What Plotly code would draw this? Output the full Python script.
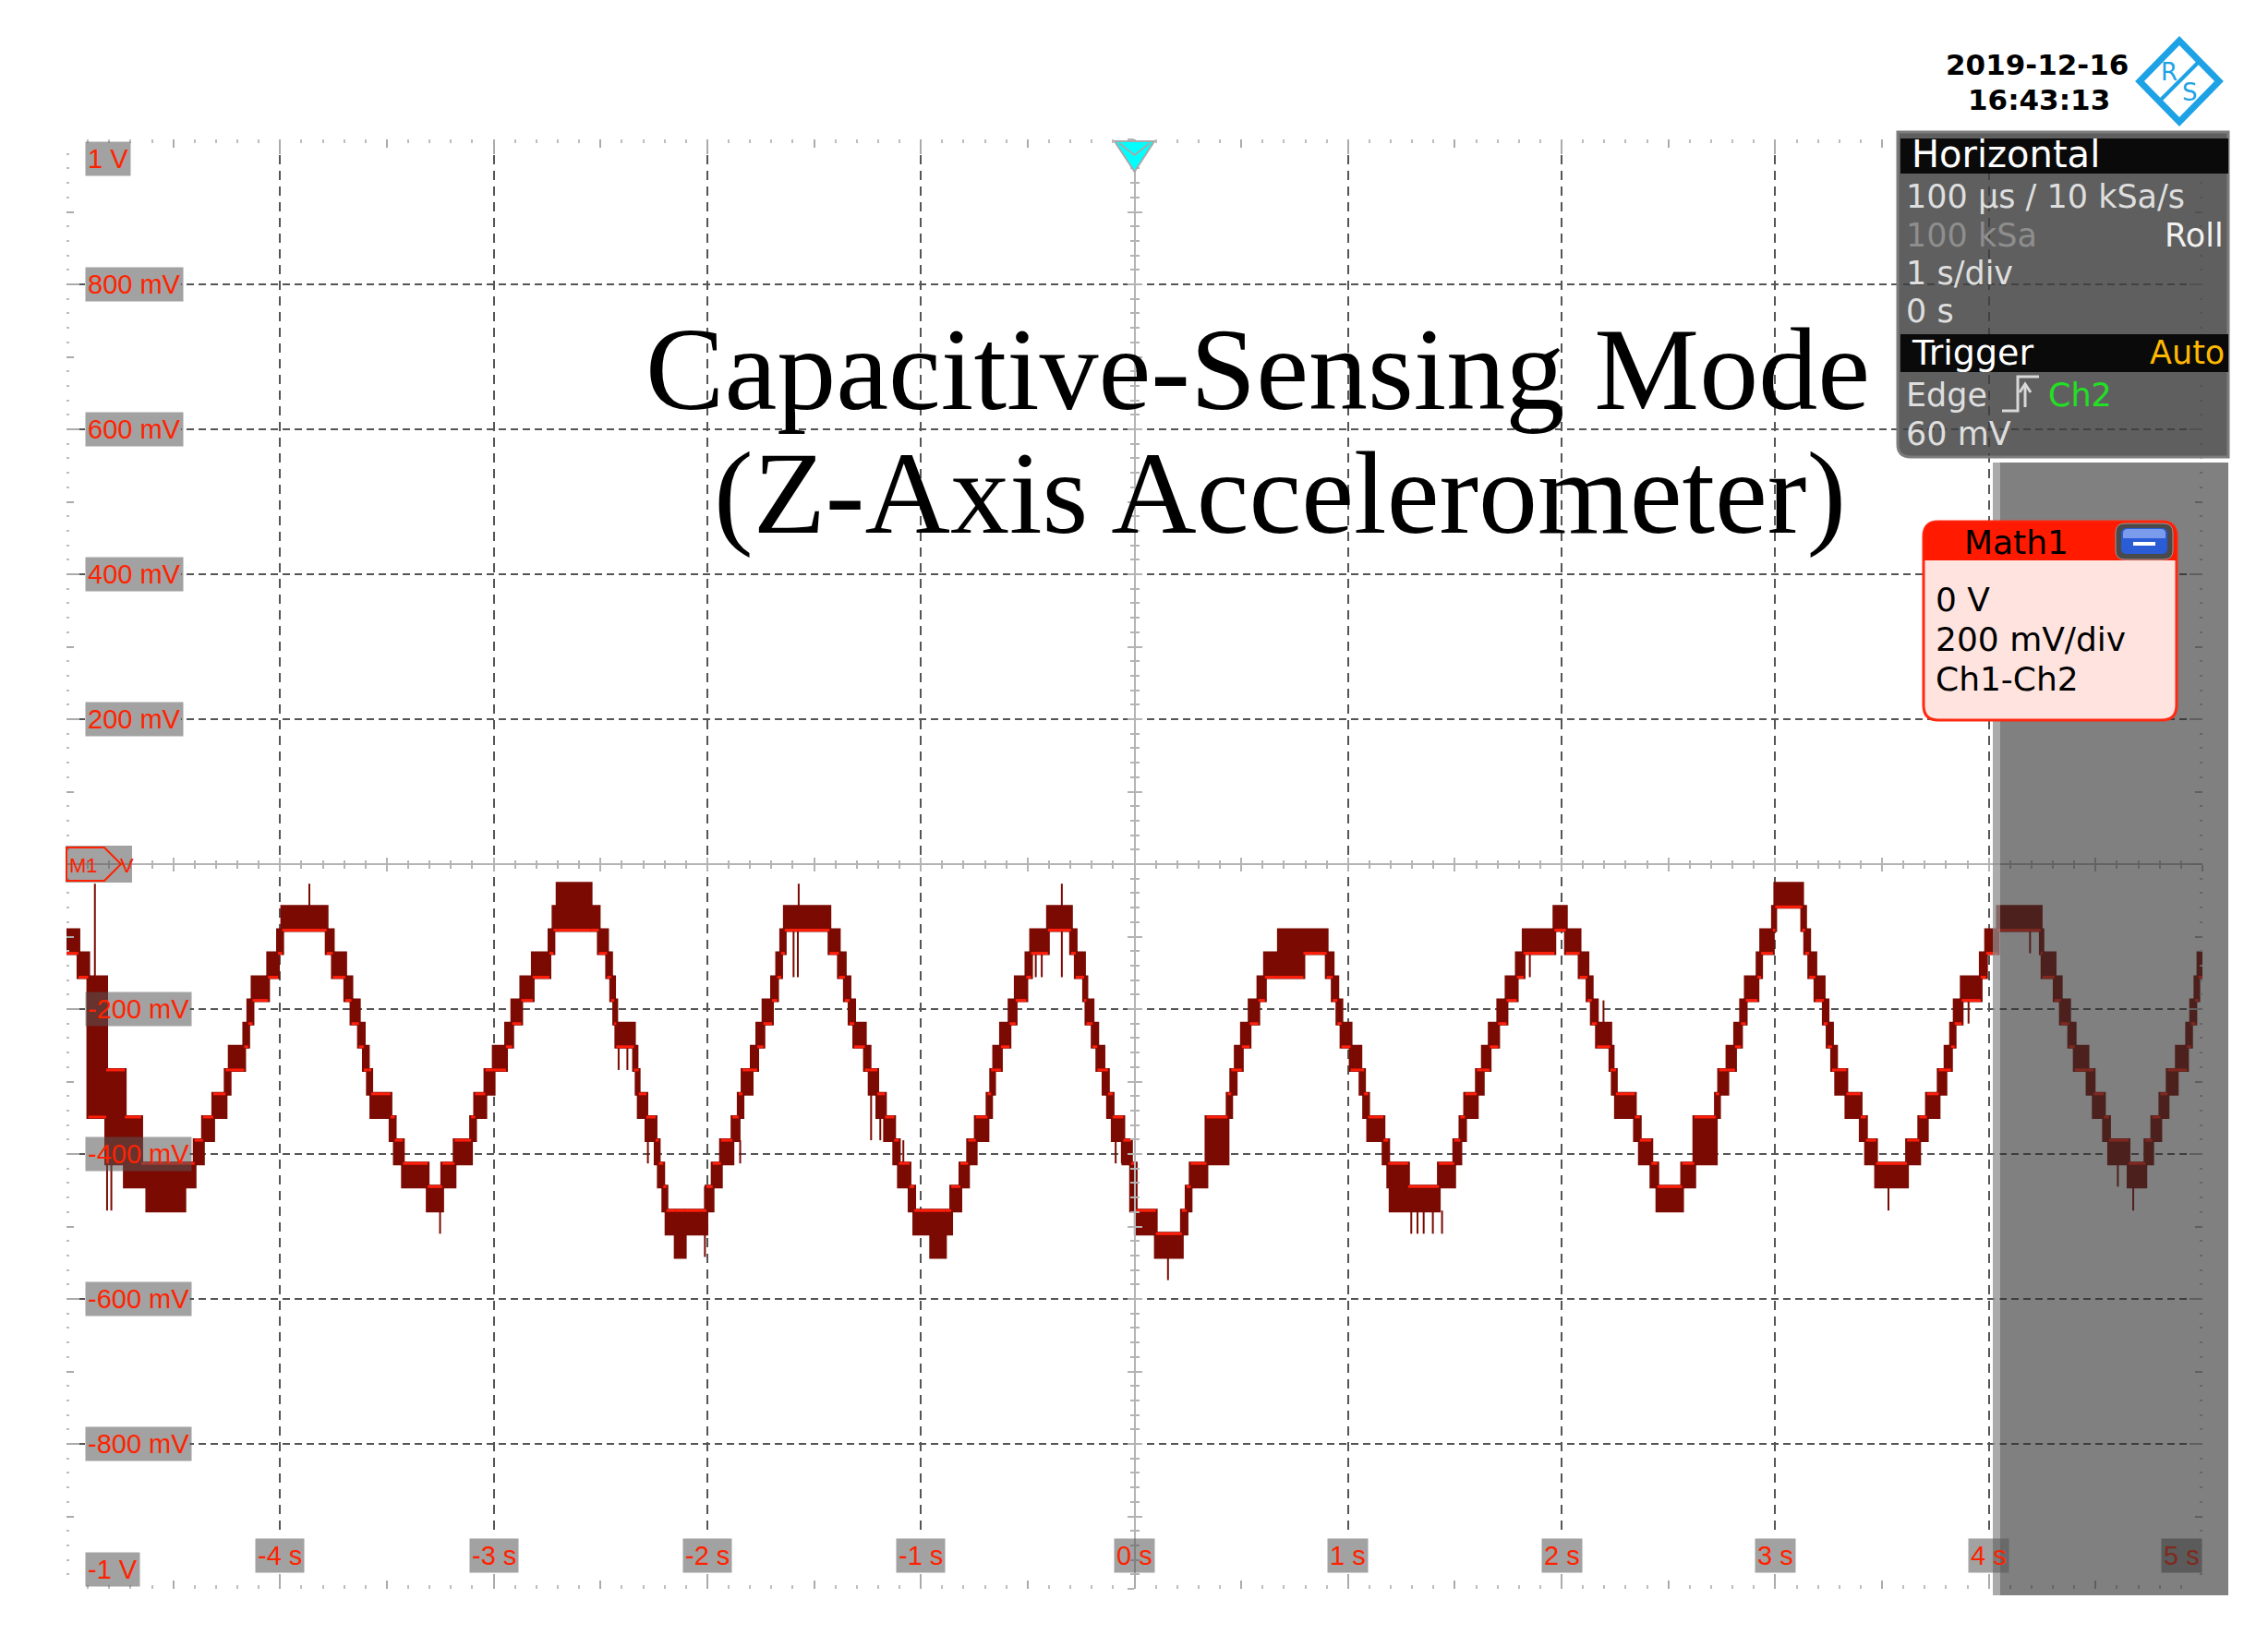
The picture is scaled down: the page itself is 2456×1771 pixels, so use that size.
import plotly.graph_objects as go

# ---------------- data ----------------
# Math1 (Ch1-Ch2) waveform, drawn as quantisation bands:
# band start time [s], upper level [V], lower level [V]; each band lasts until the next start
band_t = [-5.000, -4.944, -4.898, -4.814, -4.727, -4.650, -4.622, -4.448, -4.400, -4.361,
          -4.313, -4.255, -4.236, -4.168, -4.149, -4.129, -4.056, -4.010, -3.990, -3.782,
          -3.753, -3.695, -3.666, -3.631, -3.608, -3.589, -3.573, -3.483, -3.463, -3.425,
          -3.309, -3.241, -3.183, -3.106, -3.087, -3.039, -3.000, -2.942, -2.913, -2.871,
          -2.817, -2.739, -2.720, -2.701, -2.546, -2.508, -2.469, -2.450, -2.436, -2.426,
          -2.343, -2.331, -2.321, -2.285, -2.242, -2.227, -2.206, -2.191, -2.148, -2.105,
          -2.004, -1.975, -1.936, -1.882, -1.853, -1.835, -1.792, -1.766, -1.737, -1.697,
          -1.673, -1.654, -1.637, -1.428, -1.384, -1.356, -1.334, -1.312, -1.262, -1.240,
          -1.204, -1.168, -1.125, -1.103, -1.053, -1.031, -0.952, -0.887, -0.858, -0.815,
          -0.779, -0.743, -0.688, -0.671, -0.657, -0.625, -0.585, -0.556, -0.506, -0.484,
          -0.405, -0.297, -0.275, -0.236, -0.225, -0.196, -0.174, -0.145, -0.124, -0.102,
          -0.052, -0.016, 0.006, 0.100, 0.222, 0.244, 0.263, 0.337, 0.436, 0.453,
          0.474, 0.503, 0.539, 0.580, 0.611, 0.676, 0.791, 0.900, 0.928, 0.950,
          0.969, 1.012, 1.058, 1.075, 1.094, 1.166, 1.188, 1.199, 1.281, 1.425,
          1.497, 1.526, 1.548, 1.603, 1.631, 1.663, 1.703, 1.742, 1.790, 1.822,
          1.966, 2.020, 2.084, 2.121, 2.141, 2.165, 2.228, 2.239, 2.254, 2.343,
          2.366, 2.420, 2.448, 2.564, 2.621, 2.722, 2.737, 2.776, 2.812, 2.840,
          2.862, 2.917, 2.934, 2.989, 3.000, 3.126, 3.140, 3.159, 3.188, 3.227,
          3.245, 3.266, 3.285, 3.333, 3.400, 3.425, 3.472, 3.617, 3.674, 3.710,
          3.765, 3.797, 3.823, 3.840, 3.873, 3.962, 3.987, 4.042, 4.243, 4.251,
          4.308, 4.337, 4.376, 4.402, 4.462, 4.491, 4.539, 4.563, 4.654, 4.733,
          4.765, 4.803, 4.837, 4.880, 4.928, 4.947, 4.967, 4.981]
band_hi = [-0.091, -0.123, -0.156, -0.284, -0.349, -0.413, -0.413, -0.413, -0.381, -0.349,
           -0.317, -0.284, -0.252, -0.220, -0.188, -0.156, -0.123, -0.091, -0.059, -0.091,
           -0.123, -0.156, -0.188, -0.220, -0.252, -0.284, -0.317, -0.349, -0.381, -0.413,
           -0.445, -0.413, -0.381, -0.349, -0.317, -0.284, -0.252, -0.220, -0.188, -0.156,
           -0.123, -0.091, -0.059, -0.027, -0.059, -0.091, -0.123, -0.156, -0.188, -0.220,
           -0.252, -0.284, -0.317, -0.349, -0.381, -0.413, -0.445, -0.478, -0.478, -0.478,
           -0.445, -0.413, -0.381, -0.349, -0.317, -0.284, -0.252, -0.220, -0.188, -0.156,
           -0.123, -0.091, -0.059, -0.091, -0.123, -0.156, -0.188, -0.220, -0.252, -0.284,
           -0.317, -0.349, -0.381, -0.413, -0.445, -0.478, -0.478, -0.478, -0.445, -0.413,
           -0.381, -0.349, -0.317, -0.284, -0.252, -0.220, -0.188, -0.156, -0.123, -0.091,
           -0.059, -0.091, -0.123, -0.156, -0.188, -0.220, -0.252, -0.284, -0.317, -0.349,
           -0.381, -0.413, -0.478, -0.510, -0.478, -0.445, -0.413, -0.349, -0.317, -0.284,
           -0.252, -0.220, -0.188, -0.156, -0.123, -0.091, -0.091, -0.123, -0.156, -0.188,
           -0.220, -0.252, -0.284, -0.317, -0.349, -0.381, -0.413, -0.413, -0.445, -0.413,
           -0.381, -0.349, -0.317, -0.284, -0.252, -0.220, -0.188, -0.156, -0.123, -0.091,
           -0.059, -0.091, -0.123, -0.156, -0.188, -0.220, -0.252, -0.284, -0.317, -0.349,
           -0.381, -0.413, -0.445, -0.413, -0.349, -0.317, -0.284, -0.252, -0.220, -0.188,
           -0.156, -0.123, -0.091, -0.059, -0.027, -0.059, -0.091, -0.123, -0.156, -0.188,
           -0.220, -0.252, -0.284, -0.317, -0.349, -0.381, -0.413, -0.381, -0.349, -0.317,
           -0.284, -0.252, -0.220, -0.188, -0.156, -0.123, -0.091, -0.059, -0.091, -0.123,
           -0.156, -0.188, -0.220, -0.252, -0.284, -0.317, -0.349, -0.381, -0.413, -0.381,
           -0.349, -0.317, -0.284, -0.252, -0.220, -0.188, -0.156, -0.123]
band_lo = [-0.123, -0.156, -0.349, -0.413, -0.445, -0.445, -0.478, -0.445, -0.413, -0.381,
           -0.349, -0.317, -0.284, -0.252, -0.220, -0.188, -0.156, -0.123, -0.091, -0.123,
           -0.156, -0.188, -0.220, -0.252, -0.284, -0.317, -0.349, -0.381, -0.413, -0.445,
           -0.478, -0.445, -0.413, -0.381, -0.349, -0.317, -0.284, -0.252, -0.220, -0.188,
           -0.156, -0.123, -0.091, -0.091, -0.091, -0.123, -0.156, -0.188, -0.220, -0.252,
           -0.284, -0.317, -0.349, -0.381, -0.413, -0.445, -0.478, -0.510, -0.542, -0.510,
           -0.478, -0.445, -0.413, -0.381, -0.349, -0.317, -0.284, -0.252, -0.220, -0.188,
           -0.156, -0.123, -0.091, -0.123, -0.156, -0.188, -0.220, -0.252, -0.284, -0.317,
           -0.349, -0.381, -0.413, -0.445, -0.478, -0.510, -0.542, -0.510, -0.478, -0.445,
           -0.413, -0.381, -0.349, -0.317, -0.284, -0.252, -0.220, -0.188, -0.156, -0.123,
           -0.091, -0.123, -0.156, -0.188, -0.220, -0.252, -0.284, -0.317, -0.349, -0.381,
           -0.413, -0.478, -0.510, -0.542, -0.510, -0.478, -0.445, -0.413, -0.349, -0.317,
           -0.284, -0.252, -0.220, -0.188, -0.156, -0.156, -0.123, -0.156, -0.188, -0.220,
           -0.252, -0.284, -0.317, -0.349, -0.381, -0.413, -0.445, -0.478, -0.478, -0.445,
           -0.413, -0.381, -0.349, -0.317, -0.284, -0.252, -0.220, -0.188, -0.156, -0.123,
           -0.091, -0.123, -0.156, -0.188, -0.220, -0.252, -0.284, -0.317, -0.349, -0.381,
           -0.413, -0.445, -0.478, -0.445, -0.413, -0.349, -0.317, -0.284, -0.252, -0.220,
           -0.188, -0.156, -0.123, -0.091, -0.059, -0.091, -0.123, -0.156, -0.188, -0.220,
           -0.252, -0.284, -0.317, -0.349, -0.381, -0.413, -0.445, -0.413, -0.381, -0.349,
           -0.317, -0.284, -0.252, -0.220, -0.188, -0.156, -0.123, -0.091, -0.123, -0.156,
           -0.188, -0.220, -0.252, -0.284, -0.317, -0.349, -0.381, -0.413, -0.445, -0.413,
           -0.381, -0.349, -0.317, -0.284, -0.252, -0.220, -0.188, -0.156]
band_end_t = 5.0

# short glitches (vertical lines): time [s], top [V], bottom [V]
spike_t = [-4.867, -4.810, -4.790, -3.863, -3.251, -2.415, -2.374, -2.278, -2.011, -1.846,
           -1.596, -1.576, -1.572, -1.233, -1.190, -1.082, -0.462, -0.434, -0.340, -0.088,
           -0.059, 0.157, 0.294, 0.640, 1.015, 1.044, 1.296, 1.325, 1.354, 1.397,
           1.440, 1.851, 1.951, 2.196, 3.530, 3.696, 3.905, 4.193, 4.315, 4.553,
           4.604, 4.676, 4.712, 4.813]
spike_hi = [-0.027, -0.156, -0.350, -0.027, -0.478, -0.252, -0.252, -0.349, -0.445, -0.381,
            -0.091, -0.091, -0.027, -0.317, -0.317, -0.381, -0.123, -0.123, -0.027, -0.381,
            -0.381, -0.542, -0.413, -0.123, -0.252, -0.252, -0.478, -0.478, -0.478, -0.478,
            -0.478, -0.123, -0.091, -0.188, -0.445, -0.349, -0.188, -0.091, -0.156, -0.349,
            -0.413, -0.445, -0.413, -0.317]
spike_lo = [-0.349, -0.478, -0.478, -0.059, -0.510, -0.284, -0.284, -0.413, -0.542, -0.413,
            -0.156, -0.156, -0.059, -0.381, -0.381, -0.445, -0.156, -0.156, -0.156, -0.413,
            -0.413, -0.574, -0.445, -0.156, -0.284, -0.284, -0.510, -0.510, -0.510, -0.510,
            -0.510, -0.156, -0.123, -0.220, -0.478, -0.381, -0.220, -0.123, -0.188, -0.381,
            -0.445, -0.478, -0.445, -0.349]

x_tick_vals = [-4, -3, -2, -1, 0, 1, 2, 3, 4, 5]
x_tick_text = ["-4 s", "-3 s", "-2 s", "-1 s", "0 s", "1 s", "2 s", "3 s", "4 s", "5 s"]
y_tick_vals = [1.0, 0.8, 0.6, 0.4, 0.2, -0.2, -0.4, -0.6, -0.8, -1.0]
y_tick_text = ["1 V", "800 mV", "600 mV", "400 mV", "200 mV", "-200 mV", "-400 mV",
               "-600 mV", "-800 mV", "-1 V"]

title_lines = ["Capacitive-Sensing Mode", "(Z-Axis Accelerometer)"]
timestamp = ["2019-12-16", "16:43:13"]

# ---------------- geometry / style ----------------
W, H = 2456, 1771
PL, PT, PW, PH = 72, 151, 2313, 1570
XPX = PW / 10.0   # pixels per second
YPX = PH / 2.0    # pixels per volt
DARK = "#7a0a02"
BRIGHT = "#ff1e0a"
LBL_RED = "#ff2200"
LBL_BG = "rgba(85,85,85,0.55)"
LBL_SIZE = 29
GRID = "#555555"
TICK = "#ababab"
# approximate Liberation Sans advance widths (em) for the label characters
CHAR_EM = {"0": 0.556, "1": 0.556, "2": 0.556, "3": 0.556, "4": 0.556, "5": 0.556,
           "6": 0.556, "8": 0.556, " ": 0.278, "m": 0.833, "V": 0.667, "-": 0.333, "s": 0.5}


def text_w(s):
    return sum(CHAR_EM.get(c, 0.556) for c in s) * LBL_SIZE + 4


def px(x):
    return (x - PL) / PW


def py(y):
    return (PT + PH - y) / PH


def pt(x, y):
    return f"{px(x):.5f},{py(y):.5f}"


def poly(points, closed=True):
    s = "M " + " L ".join(pt(x, y) for x, y in points)
    return s + (" Z" if closed else "")


def rrect(x0, y0, x1, y1, tl=0, tr=0, br=0, bl=0):
    return (f"M {pt(x0 + tl, y0)} L {pt(x1 - tr, y0)} Q {pt(x1, y0)} {pt(x1, y0 + tr)} "
            f"L {pt(x1, y1 - br)} Q {pt(x1, y1)} {pt(x1 - br, y1)} "
            f"L {pt(x0 + bl, y1)} Q {pt(x0, y1)} {pt(x0, y1 - bl)} "
            f"L {pt(x0, y0 + tl)} Q {pt(x0, y0)} {pt(x0 + tl, y0)} Z")


def shape(path, fill=None, lc=None, lw=0, layer="above"):
    d = dict(type="path", path=path, xref="paper", yref="paper", layer=layer,
             line=dict(width=lw, color=lc if lc else "rgba(0,0,0,0)"))
    if fill:
        d["fillcolor"] = fill
    return d


def ann(text, x, y, size, color, xanchor="left", family="DejaVu Sans", bg=None, pad=1):
    d = dict(text=text, x=px(x), y=py(y), xref="paper", yref="paper", xanchor=xanchor,
             yanchor="middle", showarrow=False, borderpad=pad,
             font=dict(family=family, size=size, color=color))
    if bg:
        d["bgcolor"] = bg
    return d


fig = go.Figure()

# ---------------- waveform ----------------
xs = band_t + [band_end_t]
ylo = band_lo + [band_lo[-1]]
yhi = band_hi + [band_hi[-1]]
fig.add_trace(go.Scatter(x=xs, y=ylo, mode="lines", line=dict(shape="hv", color=DARK, width=4),
                         hoverinfo="skip", showlegend=False))
fig.add_trace(go.Scatter(x=xs, y=yhi, mode="lines", line=dict(shape="hv", color=DARK, width=4),
                         fill="tonexty", fillcolor=DARK, hoverinfo="skip", showlegend=False))

sx, sy = [], []
for t, a, b in zip(spike_t, spike_hi, spike_lo):
    sx += [t, t, None]
    sy += [a, b, None]
fig.add_trace(go.Scatter(x=sx, y=sy, mode="lines", line=dict(color=DARK, width=2),
                         hoverinfo="skip", showlegend=False))

bx, by = [], []
for i in range(len(band_t)):
    t0 = band_t[i]
    t1 = band_t[i + 1] if i + 1 < len(band_t) else band_end_t
    mid = (band_hi[i] + band_lo[i]) / 2
    edge = band_lo[i] if mid > -0.285 else band_hi[i]
    bx += [t0, t1, None]
    by += [edge, edge, None]
fig.add_trace(go.Scatter(x=bx, y=by, mode="lines", line=dict(color=BRIGHT, width=3),
                         hoverinfo="skip", showlegend=False))

# empty traces so that the extra tick axes are created
for xa, ya in [("x2", "y"), ("x3", "y"), ("x4", "y"), ("x", "y2"), ("x", "y3"), ("x", "y4")]:
    fig.add_trace(go.Scatter(x=[], y=[], xaxis=xa, yaxis=ya, showlegend=False, hoverinfo="skip"))

common = dict(showticklabels=False, zeroline=False, fixedrange=True)
fig.update_layout(
    width=W, height=H,
    margin=dict(l=PL, r=W - PL - PW, t=PT, b=H - PT - PH, pad=0),
    paper_bgcolor="white", plot_bgcolor="white",
    xaxis=dict(range=[-5, 5], showgrid=True, gridcolor=GRID, gridwidth=2, griddash="10px,7px",
               tickmode="linear", tick0=0, dtick=1, ticks="inside", ticklen=16, tickwidth=2,
               tickcolor=TICK, mirror="ticks", showline=False,
               minor=dict(tickmode="linear", tick0=0, dtick=0.1, ticks="inside", ticklen=4,
                          tickwidth=2, tickcolor="#bdbdbd", showgrid=False), **common),
    xaxis2=dict(range=[-5, 5], overlaying="x", anchor="y", showgrid=False, tickmode="linear",
                tick0=0, dtick=0.5, ticks="inside", ticklen=9, tickwidth=2, tickcolor=TICK,
                mirror="ticks", showline=False, **common),
    xaxis3=dict(range=[-5, 5], overlaying="x", anchor="free", position=0.5, showgrid=False,
                showline=True, linecolor="#b4b4b4", linewidth=2, tickmode="linear", tick0=0,
                dtick=0.5, ticks="outside", ticklen=7, tickwidth=2, tickcolor="#b4b4b4",
                minor=dict(tickmode="linear", tick0=0, dtick=0.1, ticks="outside", ticklen=4,
                           tickwidth=2, tickcolor="#b4b4b4", showgrid=False), **common),
    xaxis4=dict(range=[-5, 5], overlaying="x", anchor="free", position=0.5, showgrid=False,
                showline=False, tickmode="linear", tick0=0, dtick=0.5, ticks="inside",
                ticklen=7, tickwidth=2, tickcolor="#b4b4b4",
                minor=dict(tickmode="linear", tick0=0, dtick=0.1, ticks="inside", ticklen=4,
                           tickwidth=2, tickcolor="#b4b4b4", showgrid=False), **common),
    yaxis=dict(range=[-1, 1], showgrid=True, gridcolor=GRID, gridwidth=2, griddash="8px,5px",
               tickmode="linear", tick0=0, dtick=0.2, ticks="inside", ticklen=14, tickwidth=2,
               tickcolor=TICK, mirror="ticks", showline=False,
               minor=dict(tickmode="linear", tick0=0, dtick=0.02, ticks="inside", ticklen=3,
                          tickwidth=2, tickcolor="#bdbdbd", showgrid=False), **common),
    yaxis2=dict(range=[-1, 1], overlaying="y", anchor="x", showgrid=False, tickmode="linear",
                tick0=0, dtick=0.1, ticks="inside", ticklen=8, tickwidth=2, tickcolor=TICK,
                mirror="ticks", showline=False, **common),
    yaxis3=dict(range=[-1, 1], overlaying="y", anchor="free", position=0.5, showgrid=False,
                showline=True, linecolor="#b4b4b4", linewidth=2, tickmode="linear", tick0=0,
                dtick=0.1, ticks="outside", ticklen=7, tickwidth=2, tickcolor="#b4b4b4",
                minor=dict(tickmode="linear", tick0=0, dtick=0.02, ticks="outside", ticklen=4,
                           tickwidth=2, tickcolor="#b4b4b4", showgrid=False), **common),
    yaxis4=dict(range=[-1, 1], overlaying="y", anchor="free", position=0.5, showgrid=False,
                showline=False, tickmode="linear", tick0=0, dtick=0.1, ticks="inside",
                ticklen=7, tickwidth=2, tickcolor="#b4b4b4",
                minor=dict(tickmode="linear", tick0=0, dtick=0.02, ticks="inside", ticklen=4,
                           tickwidth=2, tickcolor="#b4b4b4", showgrid=False), **common),
)

shapes = []
# hide the dashed grid underneath the axis label boxes (data-referenced, between grid and traces)
for v, s in zip(y_tick_vals, y_tick_text):
    if abs(v) < 0.99:
        shapes.append(dict(type="rect", xref="x", yref="y", layer="between",
                           x0=-5 + 20 / XPX, x1=-5 + (20 + text_w(s)) / XPX,
                           y0=v - 4 / YPX, y1=v + 4 / YPX,
                           fillcolor="white", line=dict(width=0)))
for v, s in zip(x_tick_vals, x_tick_text):
    if v not in (0, 5):
        shapes.append(dict(type="rect", xref="x", yref="y", layer="between",
                           x0=v - 4 / XPX, x1=v + 4 / XPX,
                           y0=-1 + 15 / YPX, y1=-1 + 58 / YPX,
                           fillcolor="white", line=dict(width=0)))
# roll-mode shaded region on the right
shapes.append(shape(poly([(2158, 501), (2413, 501), (2413, 1728), (2158, 1728)]),
                    fill="rgba(47,47,47,0.61)"))
shapes.append(shape(poly([(2158, 501), (2166, 501), (2166, 1728), (2158, 1728)]),
                    fill="rgba(255,255,255,0.33)"))
# Horizontal / Trigger panel
shapes.append(shape(rrect(2055, 143, 2413, 495, 0, 0, 0, 14), fill="rgba(62,62,62,0.83)",
                    lc="#7c7c7c", lw=3))
shapes.append(shape(poly([(2058, 150), (2413, 150), (2413, 188), (2058, 188)]), fill="#0a0a0a"))
shapes.append(shape(poly([(2058, 362), (2413, 362), (2413, 403), (2058, 403)]), fill="#0a0a0a"))
# trigger edge icon
shapes.append(shape(poly([(2168, 445), (2185, 445), (2185, 408), (2208, 408)], closed=False),
                    lc="#d8d8d8", lw=3))
shapes.append(shape(poly([(2193, 441), (2193, 416)], closed=False), lc="#d8d8d8", lw=3))
shapes.append(shape(poly([(2187, 425), (2193, 416), (2199, 425)], closed=False),
                    lc="#d8d8d8", lw=3))
# Math1 box
shapes.append(shape(rrect(2083, 565, 2357, 780, 16, 16, 16, 16), fill="#ffe3df",
                    lc="#ff2a12", lw=3))
shapes.append(shape(rrect(2083, 565, 2357, 607, 16, 16, 0, 0), fill="#ff1a00"))
shapes.append(shape(rrect(2291, 567, 2353, 606, 10, 10, 10, 10), fill="#4a4a4a",
                    lc="#9a9a9a", lw=1))
shapes.append(shape(rrect(2297, 572, 2347, 600, 6, 6, 6, 6), fill="#2a5cd6"))
shapes.append(shape(rrect(2299, 573, 2345, 583, 5, 5, 0, 0), fill="rgba(190,210,255,0.55)"))
shapes.append(shape(poly([(2310, 589), (2334, 589)], closed=False), lc="white", lw=4))
# trigger position marker (cyan)
shapes.append(shape(poly([(1207, 153), (1250, 153), (1228.6, 186)]), fill="#00ffff",
                    lc="#a8a8a8", lw=2))
shapes.append(shape(poly([(1212, 155), (1228.6, 168), (1245, 155)], closed=False),
                    lc="#a8a8a8", lw=2))
# M1 offset marker
shapes.append(shape(poly([(71, 916), (143, 916), (143, 956), (71, 956)]), fill=LBL_BG))
shapes.append(shape(poly([(72, 918), (113, 918), (131, 936), (113, 954), (72, 954)]),
                    lc="#ff2000", lw=2))
# R&S logo
shapes.append(shape(poly([(2360, 44), (2403, 88), (2360, 132), (2317, 88)]),
                    lc="#1ea2e6", lw=7))
shapes.append(shape(poly([(2382, 66), (2338, 110)], closed=False), lc="#1ea2e6", lw=4))
fig.update_layout(shapes=shapes)

anns = []
# y tick labels (gray boxes)
for v, s in zip(y_tick_vals, y_tick_text):
    ya = "middle"
    ysh = 0
    if v == 1.0:
        ya, ysh = "top", -2
    elif v == -1.0:
        ya, ysh = "bottom", 2
    anns.append(dict(text=s, x=-5, y=v, xref="x", yref="y", xanchor="left", yanchor=ya,
                     xshift=20, yshift=ysh, showarrow=False, bgcolor=LBL_BG, borderpad=2,
                     font=dict(family="Liberation Sans", size=LBL_SIZE, color=LBL_RED)))
# x tick labels
for v, s in zip(x_tick_vals, x_tick_text):
    xa = "right" if v == 5 else "center"
    bg = "#5b5b5b" if v == 5 else LBL_BG
    fc = "#802a1d" if v == 5 else LBL_RED
    anns.append(dict(text=s, x=v, y=-1, xref="x", yref="y", xanchor=xa, yanchor="bottom",
                     yshift=17, showarrow=False, bgcolor=bg, borderpad=2,
                     font=dict(family="Liberation Sans", size=LBL_SIZE, color=fc)))
# M1 marker text
anns.append(ann("M1", 90, 937, 22, "#ff2000", xanchor="center", family="Liberation Sans"))
anns.append(ann("V", 137, 937, 22, "#ff2000", xanchor="center", family="Liberation Sans"))
# title
anns.append(ann(title_lines[0], 1362, 400, 128, "black", xanchor="center",
                family="Liberation Serif"))
anns.append(ann(title_lines[1], 1386, 534, 128, "black", xanchor="center",
                family="Liberation Serif"))
# timestamp
anns.append(ann("<b>" + timestamp[0] + "</b>", 2206, 70, 31, "black", xanchor="center"))
anns.append(ann("<b>" + timestamp[1] + "</b>", 2208, 108, 31, "black", xanchor="center"))
# logo letters
anns.append(ann("R", 2349, 78, 26, "#1ea2e6", xanchor="center"))
anns.append(ann("S", 2371, 100, 26, "#1ea2e6", xanchor="center"))
# panel text
anns.append(ann("Horizontal", 2068, 167, 40, "white"))
anns.append(ann("100 µs / 10 kSa/s", 2062, 213, 35, "#dedede"))
anns.append(ann("100 kSa", 2062, 255, 35, "#8e8e8e"))
anns.append(ann("Roll", 2410, 255, 35, "#f2f2f2", xanchor="right"))
anns.append(ann("1 s/div", 2062, 296, 35, "#dedede"))
anns.append(ann("0 s", 2062, 337, 35, "#dedede"))
anns.append(ann("Trigger", 2068, 382, 38, "white"))
anns.append(ann("Auto", 2411, 382, 35, "#ffb800", xanchor="right"))
anns.append(ann("Edge", 2062, 428, 35, "#dedede"))
anns.append(ann("Ch2", 2216, 428, 35, "#22e022"))
anns.append(ann("60 mV", 2062, 470, 35, "#dedede"))
# Math1 box text
anns.append(ann("Math1", 2183, 587, 36, "black", xanchor="center"))
anns.append(ann("0 V", 2094, 649, 36, "black"))
anns.append(ann("200 mV/div", 2094, 692, 36, "black"))
anns.append(ann("Ch1-Ch2", 2094, 735, 36, "black"))
fig.update_layout(annotations=anns)

fig.write_html("out.html", config={"displayModeBar": False},
               post_script="document.body.style.margin='0';document.body.style.overflow='hidden';")
